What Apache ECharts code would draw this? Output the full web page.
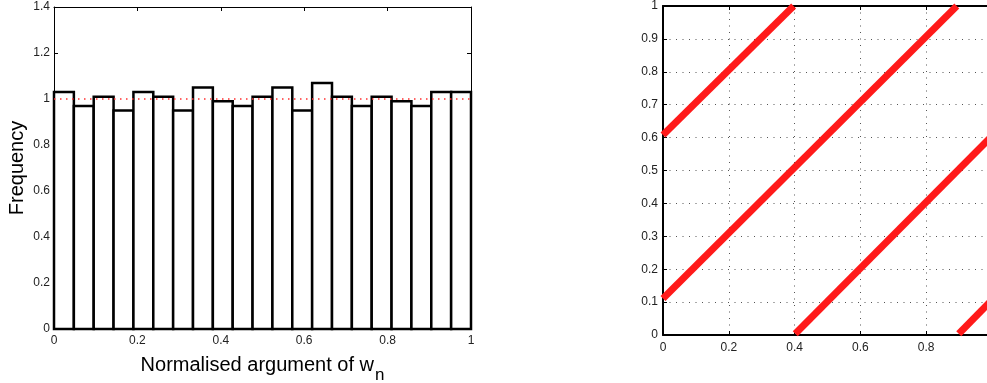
<!DOCTYPE html>
<html>
<head>
<meta charset="utf-8">
<script src="https://cdn.jsdelivr.net/npm/echarts@6/dist/echarts.min.js"></script>
<style>html,body{margin:0;padding:0;background:#fff;}#c{width:987px;height:383px;}</style>
</head>
<body>
<div id="c"></div>
<script>
// Left: histogram of normalised argument (21 equal bins over [0,1])
var histValues = [1.03, 0.97, 1.01, 0.95, 1.03, 1.01, 0.95, 1.05, 0.99, 0.97, 1.01,
                  1.05, 0.95, 1.07, 1.01, 0.97, 1.01, 0.99, 0.97, 1.03, 1.03];
var histRange = [0, 1];
var refLevel = 1;

// Right: scatter bands (segment endpoints)
var segA = [[0, 0.608], [0.397, 1.0]];
var segB = [[0, 0.111], [0.893, 1.0]];
var segC = [[0.402, 0.004], [1.0, 0.605]];
var segD = [[0.899, 0.004], [1.0, 0.107]];

var FONT = 'Liberation Sans, Arial, Helvetica, sans-serif';
var nBins = histValues.length;
var binW = (histRange[1] - histRange[0]) / nBins;
var histData = histValues.map(function (v, i) {
  return [histRange[0] + i * binW, histRange[0] + (i + 1) * binW, v];
});

var chart = echarts.init(document.getElementById('c'), null, {renderer: 'canvas'});

var lblStyle = {color: '#222', fontSize: 12, fontFamily: FONT};
function fmt(v) { return +v.toFixed(1) + ''; }

function leftAxisX(pos, show) {
  return {
    type: 'value', gridIndex: 0, position: pos, min: 0, max: 1, interval: 0.2,
    axisLine: {show: true, onZero: false, lineStyle: {color: '#000', width: 1}},
    axisTick: {show: true, inside: true, length: 4, lineStyle: {color: '#000'}},
    axisLabel: Object.assign({show: show, margin: 6, formatter: fmt}, lblStyle),
    splitLine: {show: false}
  };
}
function leftAxisY(pos, show) {
  return {
    type: 'value', gridIndex: 0, position: pos, min: 0, max: 1.4, interval: 0.2,
    axisLine: {show: true, onZero: false, lineStyle: {color: '#000', width: 1}},
    axisTick: {show: true, inside: true, length: 4, lineStyle: {color: '#000'}},
    axisLabel: Object.assign({show: show, margin: 4, formatter: fmt}, lblStyle),
    splitLine: {show: false}
  };
}

var xl0 = leftAxisX('bottom', true);
xl0.name = '{m|Normalised argument of w}{s|n}';
xl0.nameLocation = 'middle';
xl0.nameGap = 18;
xl0.nameTextStyle = {
  fontFamily: FONT, color: '#000',
  rich: {
    m: {fontSize: 20, fontFamily: FONT, color: '#000'},
    s: {fontSize: 17, fontFamily: FONT, color: '#000', padding: [20, 0, 0, 1]}
  }
};
var yl0 = leftAxisY('left', true);
yl0.name = 'Frequency';
yl0.nameLocation = 'middle';
yl0.nameGap = 27;
yl0.nameTextStyle = {fontSize: 20, fontFamily: FONT, color: '#000'};

var gridDots = {show: true, lineStyle: {color: '#555', width: 1, type: [1, 5.5]}};
var xr = {
  type: 'value', gridIndex: 1, position: 'bottom', min: 0, max: 1, interval: 0.2,
  axisLine: {show: true, onZero: false, lineStyle: {color: '#000', width: 2}},
  axisTick: {show: true, inside: true, length: 4, lineStyle: {color: '#000'}},
  axisLabel: Object.assign({margin: 7, formatter: fmt}, lblStyle),
  splitLine: gridDots
};
var xrTop = {
  type: 'value', gridIndex: 1, position: 'top', min: 0, max: 1, interval: 0.2,
  axisLine: {show: true, onZero: false, lineStyle: {color: '#000', width: 2}},
  axisTick: {show: true, inside: true, length: 4, lineStyle: {color: '#000'}},
  axisLabel: {show: false}, splitLine: {show: false}
};
var yr = {
  type: 'value', gridIndex: 1, position: 'left', min: 0, max: 1, interval: 0.1,
  axisLine: {show: true, onZero: false, lineStyle: {color: '#000', width: 2}},
  axisTick: {show: true, inside: true, length: 4, lineStyle: {color: '#000'}},
  axisLabel: Object.assign({margin: 5, formatter: fmt}, lblStyle),
  splitLine: gridDots
};

function segSeries(d) {
  return {
    type: 'line', xAxisIndex: 2, yAxisIndex: 2, data: d,
    symbol: 'none', z: 5,
    lineStyle: {color: '#ff1a1a', width: 7}
  };
}

chart.setOption({
  animation: false,
  backgroundColor: '#fff',
  grid: [
    {left: 54, top: 7, width: 417, height: 322, outerBoundsMode: 'none', containLabel: false},
    {left: 663, top: 6, width: 329, height: 329, outerBoundsMode: 'none', containLabel: false}
  ],
  xAxis: [xl0, leftAxisX('top', false), xr, xrTop],
  yAxis: [yl0, leftAxisY('right', false), yr],
  series: [
    {
      type: 'custom', xAxisIndex: 0, yAxisIndex: 0, data: histData,
      encode: {x: [0, 1], y: 2},
      renderItem: function (params, api) {
        var p0 = api.coord([api.value(0), api.value(2)]);
        var p1 = api.coord([api.value(1), 0]);
        return {
          type: 'rect',
          shape: {x: p0[0], y: p0[1], width: p1[0] - p0[0], height: p1[1] - p0[1]},
          style: {fill: '#fff', stroke: '#000', lineWidth: 2.5}
        };
      },
      z: 2
    },
    {
      type: 'line', xAxisIndex: 0, yAxisIndex: 0,
      data: [[histRange[0], refLevel], [histRange[1], refLevel]],
      symbol: 'none', z: 4,
      lineStyle: {color: '#ff3030', width: 1.5, type: [1.5, 4.5]}
    },
    segSeries(segA),
    segSeries(segB),
    segSeries(segC),
    segSeries(segD)
  ]
});
</script>
</body>
</html>
